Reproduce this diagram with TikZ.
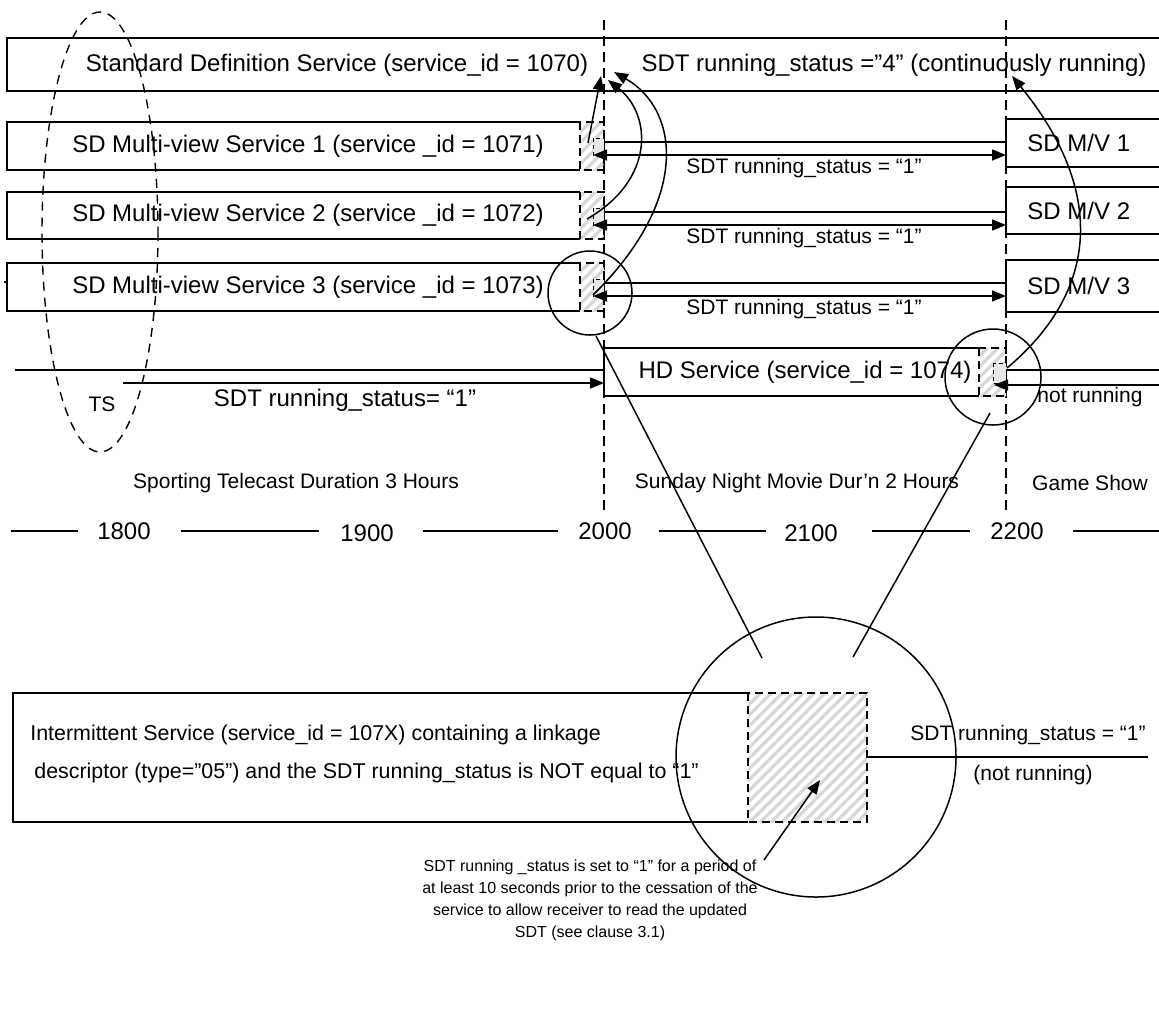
\documentclass[tikz,border=0pt]{standalone}
\usepackage{fontspec}
\setmainfont{Liberation Sans}
\usetikzlibrary{arrows.meta,patterns.meta}

\begin{document}
\begin{tikzpicture}[x=0.5pt,y=-0.5pt,line join=miter,
  frame/.style={line width=0.75pt},
  ztip/.style={-{Triangle[length=7pt,width=5.5pt]}},
  zboth/.style={{Triangle[length=7pt,width=5.5pt]}-{Triangle[length=7pt,width=5.5pt]}},
  hatched/.style={pattern={Lines[angle=45,distance=3.8pt,line width=1.6pt]},pattern color=black!16},
  hatchedge/.style={line width=0.75pt,dash pattern=on 4pt off 2.5pt},
  gate/.style={fill=black!9,line width=0.4pt,dash pattern=on 2pt off 1.5pt},
  marker/.style={line width=0.7pt,dash pattern=on 5pt off 3pt},
  lbl/.style={font=\fontsize{12}{14}\selectfont,inner sep=0pt},
  small/.style={font=\fontsize{10.5}{12}\selectfont,inner sep=0pt},
  boxtext/.style={font=\fontsize{10.7}{12}\selectfont,inner sep=0pt},
  note/.style={font=\fontsize{8}{11}\selectfont,inner sep=0pt,align=center}]
  \useasboundingbox (0,0) rectangle (1159,1013);

  % time markers
  \draw[marker] (604,20) -- (604,513);
  \draw[marker] (1006,20) -- (1006,513);

  % standard definition service
  \draw[frame] (1159,38) -- (7,38) -- (7,91) -- (1159,91);
  \node[lbl] (sdsvc) at (337,65) {Standard Definition Service (service\_id = 1070)};
  \node[lbl] (sdstat) at (894,65) {SDT running\_status ="4" (continuously running)};

  % multi-view services
  \foreach \i/\t/\b/\rt/\rb in {1/122/170/119/167, 2/192/239/187/234, 3/263/311/260/312} {
    \draw[frame] (580,\t) -- (7,\t) -- (7,\b) -- (580,\b);
    \fill[hatched] (580,\t) rectangle (604,\b);
    \draw[hatchedge] (580,\t) rectangle (604,\b);
    \draw[gate] (593,{\t+16}) rectangle (604,{\t+33});
    \node[lbl] (mv\i) at (308,{(\t+\b)/2}) {SD Multi-view Service \i\ (service \_id = 107\i)};
    \coordinate (mvend\i) at (604,{\t+20});
    \coordinate (mvnext\i) at (1006,{\t+20});
    \coordinate (mvgate\i) at (593,{\t+33});
    \coordinate (mvback\i) at (1006,{\t+33});
    \draw[frame] (mvend\i) -- (mvnext\i);
    \draw[frame,zboth] (mvgate\i) -- (mvback\i);
    \node[small] (mvstat\i) at (804,{\t+46}) {SDT running\_status = “1”};
    \draw[frame] (1159,\rt) -- (1006,\rt) -- (1006,\rb) -- (1159,\rb);
    \node[lbl,anchor=west] (mvr\i) at (1027,{(\rt+\rb)/2}) {SD M/V \i};
  }
  \draw[frame] (7,282) -- (4,282);

  % HD service
  \draw[frame] (979,348) -- (604,348) -- (604,396) -- (979,396);
  \fill[hatched] (979,348) rectangle (1006,396);
  \draw[hatchedge] (979,348) rectangle (1006,396);
  \draw[gate] (993,363) rectangle (1006,383);
  \node[lbl] (hd) at (805,372) {HD Service (service\_id = 1074)};
  \coordinate (hdout) at (1159,370);
  \coordinate (hdin) at (1159,385);
  \coordinate (hdgate) at (994,385);
  \draw[frame] (1006,370) -- (hdout);
  \draw[frame,ztip] (hdin) -- (hdgate);
  \node[small,anchor=west] (hdstat) at (1037,397) {not running};

  % transport stream
  \coordinate (tsa) at (15,370);
  \coordinate (tsb) at (123,383);
  \coordinate (hdstart) at (604,383);
  \draw[frame] (tsa) -- (604,370);
  \draw[frame,ztip] (tsb) -- (hdstart);
  \node[small] (ts) at (102,404) {TS};
  \node[lbl] (tsstat) at (345,400) {SDT running\_status= “1”};
  \draw[marker,dash pattern=on 4.5pt off 3.5pt] (100,232) ellipse [x radius=58, y radius=220];

  % links back to the SD service
  \coordinate (src1) at (588,143);
  \coordinate (src2) at (587,219);
  \coordinate (src3) at (593,295);
  \coordinate (src4) at (1007,368);
  \coordinate (tipa) at (601,76);
  \coordinate (tipb) at (608,80);
  \coordinate (tipc) at (614,72);
  \coordinate (tipd) at (1012,76);
  \draw[frame,ztip] (src1) -- (tipa);
  \draw[frame,ztip] (src2) .. controls (655,180) and (652,115) .. (tipb);
  \draw[frame,ztip] (src3) .. controls (690,200) and (680,110) .. (tipc);
  \draw[frame,ztip] (src4) .. controls (1100,290) and (1105,190) .. (tipd);

  % time line
  \draw[frame] (11,531) -- (78,531);
  \draw[frame] (181,531) -- (319,531);
  \draw[frame] (423,531) -- (558,531);
  \draw[frame] (659,531) -- (766,531);
  \draw[frame] (872,531) -- (970,531);
  \draw[frame] (1073,531) -- (1159,531);
  \node[lbl] (t18) at (124,531) {1800};
  \node[lbl] (t19) at (367,533) {1900};
  \node[lbl] (t20) at (605,531) {2000};
  \node[lbl] (t21) at (811,533) {2100};
  \node[lbl] (t22) at (1017,531) {2200};
  \node[small] (prog1) at (296,483) {Sporting Telecast Duration 3 Hours};
  \node[small] (prog2) at (797,483) {Sunday Night Movie Dur'n 2 Hours};
  \node[small] (prog3) at (1090,483) {Game Show};

  % zoom circles
  \draw[frame] (590,293) circle [radius=42];
  \draw[frame] (993,377) circle [radius=48];
  \draw[frame] (816,757) circle [radius=140];
  \coordinate (zaout) at (596,336);
  \coordinate (zain) at (762,658);
  \coordinate (zbout) at (990,413);
  \coordinate (zbin) at (853,657);
  \draw[frame] (zaout) -- (zain);
  \draw[frame] (zbout) -- (zbin);

  % intermittent service detail
  \draw[frame] (748,693) -- (13,693) -- (13,822) -- (748,822);
  \fill[hatched] (748,693) rectangle (867,822);
  \draw[hatchedge] (748,693) rectangle (867,822);
  \draw[frame] (867,757) -- (1148,757);
  \node[boxtext,anchor=west] (ints1) at (30,735) {Intermittent Service (service\_id = 107X) containing a linkage};
  \node[boxtext,anchor=west] (ints2) at (34,773) {descriptor (type=”05”) and the SDT running\_status is NOT equal to “1”};
  \node[small] (endstat) at (1028,735) {SDT running\_status = “1”};
  \node[small] (endnr) at (1033,775) {(not running)};
  \node[note] (expl) at (590,900) {SDT running \_status is set to “1” for a period of\\at least 10 seconds prior to the cessation of the\\service to allow receiver to read the updated\\SDT (see clause 3.1)};
  \coordinate (explsrc) at (764,860);
  \coordinate (expltip) at (820,780);
  \draw[frame,ztip] (explsrc) -- (expltip);
\end{tikzpicture}
\end{document}
